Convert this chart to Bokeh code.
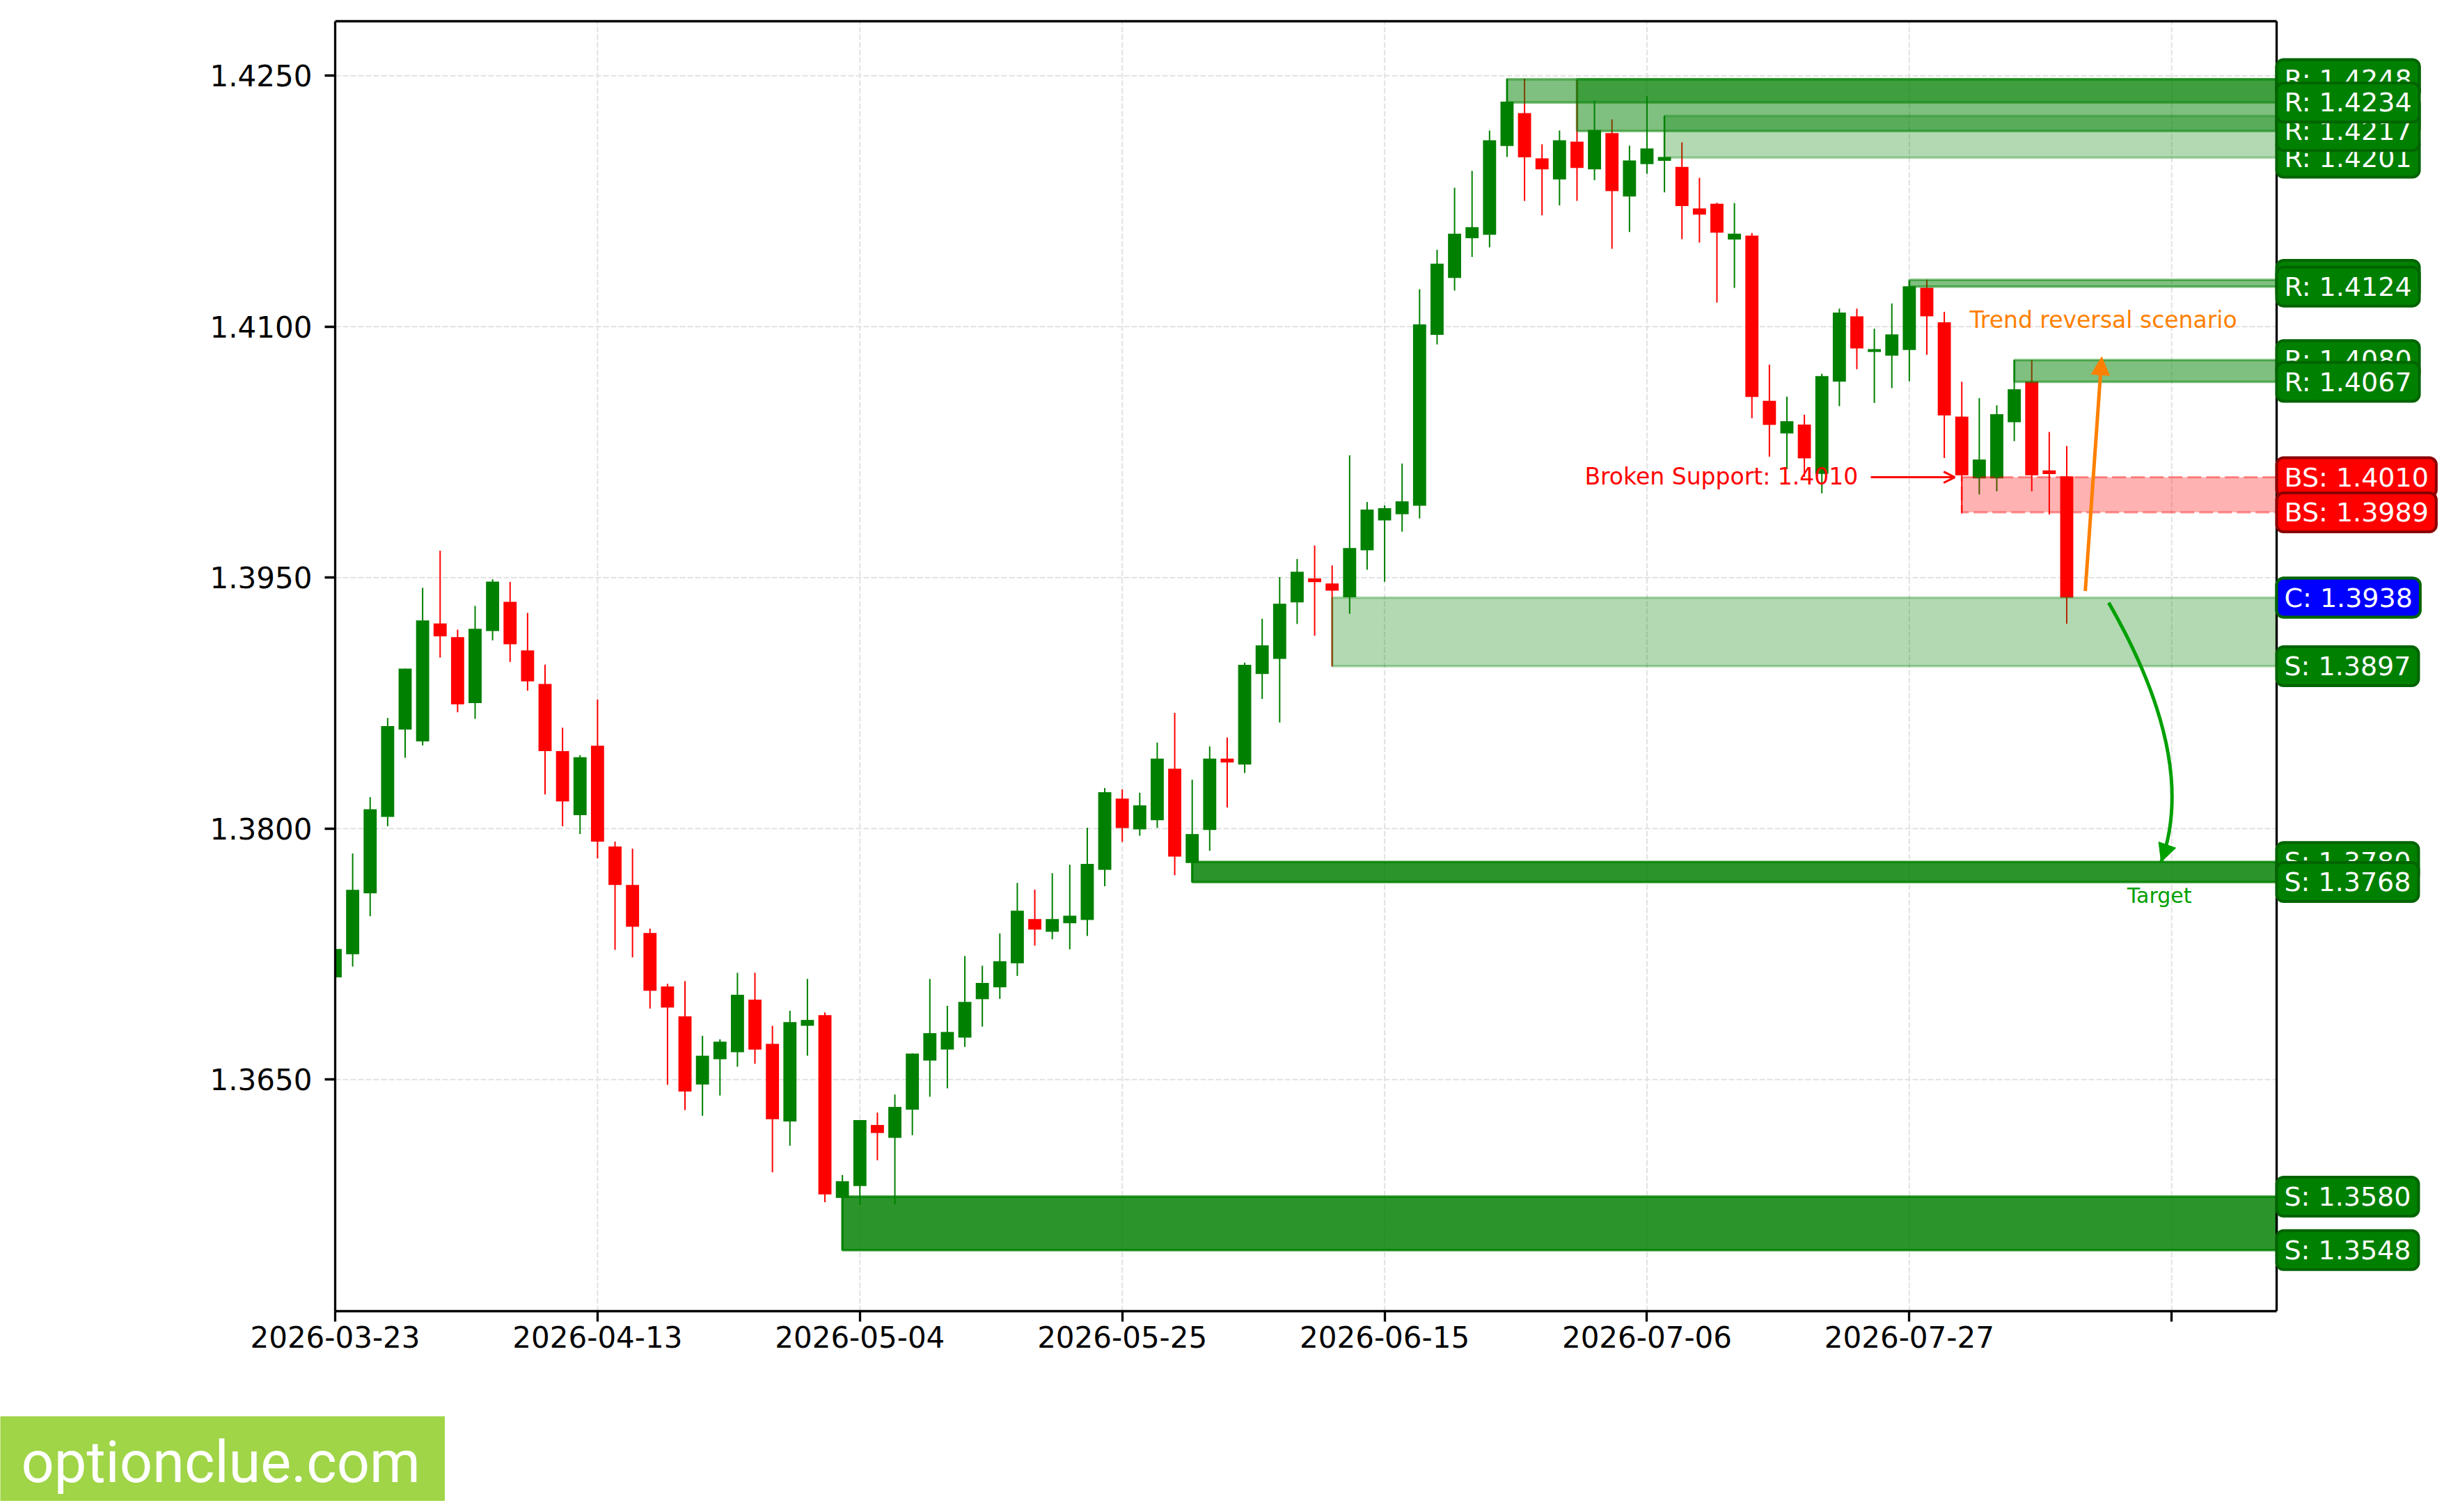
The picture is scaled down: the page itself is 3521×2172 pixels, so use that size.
from bokeh.plotting import figure
from bokeh.layouts import column
from bokeh.models import (ColumnDataSource, FixedTicker, NumeralTickFormatter, Label,
                          Arrow, NormalHead, OpenHead, Range1d)
from bokeh.embed import file_html
from bokeh.resources import INLINE
from bokeh.core.properties import value

# ---------------- data ----------------
opens = [1.3711, 1.37249, 1.37613, 1.3807, 1.38592, 1.38521, 1.39226, 1.39144, 1.3875, 1.39181,
         1.39355, 1.39065, 1.38864, 1.38463, 1.3808, 1.38495, 1.37893, 1.37663, 1.37376, 1.37056,
         1.36877, 1.3647, 1.36621, 1.36663, 1.36977, 1.36713, 1.36249, 1.36821, 1.36885, 1.35792,
         1.35863, 1.36228, 1.36151, 1.3632, 1.36613, 1.36679, 1.3675, 1.3698, 1.37051, 1.37195,
         1.37459, 1.37383, 1.37434, 1.37454, 1.37753, 1.38179, 1.37995, 1.3805, 1.38358, 1.37794,
         1.37992, 1.38418, 1.38383, 1.38924, 1.39014, 1.39352, 1.39495, 1.39465, 1.39382, 1.39663,
         1.39842, 1.39879, 1.3993, 1.40951, 1.41291, 1.41529, 1.4155, 1.4208, 1.42277, 1.42006,
         1.4188, 1.42106, 1.41941, 1.42157, 1.41778, 1.41972, 1.41992, 1.41955, 1.41707, 1.41735,
         1.41521, 1.41544, 1.40557, 1.40362, 1.40415, 1.4012, 1.40671, 1.41062, 1.40849, 1.40827,
         1.40861, 1.41233, 1.41026, 1.40462, 1.40093, 1.40093, 1.40429, 1.40671, 1.40141, 1.40105]
highs = [1.3731, 1.37851, 1.38188, 1.38661, 1.38956, 1.39439, 1.39661, 1.39189, 1.39331, 1.3949,
         1.39474, 1.39289, 1.3898, 1.38603, 1.38439, 1.38772, 1.37922, 1.3788, 1.37402, 1.37072,
         1.37088, 1.36761, 1.3674, 1.37138, 1.37138, 1.36821, 1.36911, 1.37101, 1.36901, 1.35929,
         1.36257, 1.36302, 1.3641, 1.36655, 1.37101, 1.3694, 1.37238, 1.3718, 1.37373, 1.37675,
         1.37635, 1.37733, 1.37784, 1.38005, 1.38242, 1.38234, 1.38214, 1.38514, 1.38692, 1.38292,
         1.38491, 1.38544, 1.38992, 1.39254, 1.39503, 1.39611, 1.39692, 1.39573, 1.40231, 1.39952,
         1.39932, 1.40182, 1.41224, 1.4146, 1.41831, 1.41931, 1.42173, 1.42483, 1.42483, 1.4209,
         1.42173, 1.42475, 1.42353, 1.42239, 1.42082, 1.42379, 1.42261, 1.42102, 1.4189, 1.41741,
         1.41739, 1.4156, 1.40773, 1.40582, 1.40474, 1.40719, 1.41108, 1.41108, 1.40988, 1.41139,
         1.41276, 1.41281, 1.41089, 1.40671, 1.40573, 1.4053, 1.40801, 1.40801, 1.40371, 1.40287]
lows = [1.3708, 1.37175, 1.37476, 1.38014, 1.38423, 1.38497, 1.39022, 1.38695, 1.38656, 1.39125,
        1.38996, 1.38824, 1.38204, 1.38014, 1.37967, 1.37822, 1.37275, 1.3723, 1.36924, 1.36468,
        1.36317, 1.36283, 1.36404, 1.36576, 1.36594, 1.35945, 1.36104, 1.36642, 1.35766, 1.3548,
        1.3575, 1.36017, 1.35753, 1.36167, 1.36397, 1.36447, 1.36695, 1.36816, 1.36982, 1.37119,
        1.373, 1.37338, 1.37278, 1.37358, 1.37655, 1.3792, 1.37957, 1.38005, 1.37721, 1.3768,
        1.37867, 1.38126, 1.38332, 1.38775, 1.38634, 1.39223, 1.39153, 1.38969, 1.39284, 1.39547,
        1.39475, 1.39775, 1.39854, 1.40894, 1.41216, 1.41417, 1.41474, 1.42015, 1.41752, 1.41666,
        1.41725, 1.41752, 1.41876, 1.41466, 1.41566, 1.41915, 1.41803, 1.41523, 1.41503, 1.41144,
        1.41232, 1.40453, 1.40223, 1.40148, 1.40103, 1.40004, 1.40525, 1.40746, 1.40544, 1.40633,
        1.40674, 1.40832, 1.40215, 1.39884, 1.39997, 1.40016, 1.40316, 1.40016, 1.39877, 1.39224]
closes = [1.3728, 1.37634, 1.38115, 1.38613, 1.38956, 1.39244, 1.39149, 1.38743, 1.39194, 1.39476,
          1.39102, 1.3888, 1.38463, 1.38162, 1.38426, 1.37922, 1.37663, 1.37413, 1.3703, 1.3693,
          1.36428, 1.36642, 1.36726, 1.37006, 1.36679, 1.36262, 1.36843, 1.36856, 1.35813, 1.35892,
          1.36257, 1.3618, 1.36336, 1.36655, 1.36777, 1.36784, 1.36964, 1.37077, 1.37207, 1.37509,
          1.37396, 1.37459, 1.37479, 1.37789, 1.38217, 1.38003, 1.38139, 1.38418, 1.37832, 1.37967,
          1.38418, 1.38395, 1.38979, 1.39095, 1.39344, 1.39535, 1.39473, 1.39422, 1.39677, 1.39907,
          1.39915, 1.39956, 1.41014, 1.41377, 1.41556, 1.41595, 1.42114, 1.42345, 1.42012, 1.41941,
          1.42114, 1.41949, 1.42176, 1.41811, 1.41994, 1.42065, 1.42015, 1.41721, 1.4167, 1.41562,
          1.41556, 1.4058, 1.40413, 1.40435, 1.40213, 1.40705, 1.41084, 1.4087, 1.40866, 1.40954,
          1.41242, 1.41062, 1.4047, 1.40112, 1.40206, 1.40477, 1.40626, 1.40112, 1.40119, 1.3938]

x_ticks = [0, 15, 30, 45, 60, 75, 90, 105]
x_tick_labels = ["2026-03-23", "2026-04-13", "2026-05-04", "2026-05-25",
                 "2026-06-15", "2026-07-06", "2026-07-27", ""]
y_ticks = [1.3650, 1.3800, 1.3950, 1.4100, 1.4250]

# support / resistance zones (drawing order)
zone_kind = ["S", "S", "S", "R", "R", "R", "R", "R", "BS"]
zone_start = [29, 49, 57, 76, 71, 67, 90, 96, 93]
zone_bottom = [1.3548, 1.3768, 1.3897, 1.4201, 1.4217, 1.4234, 1.4124, 1.4067, 1.3989]
zone_top = [1.3580, 1.3780, 1.3938, 1.4226, 1.4248, 1.4248, 1.4128, 1.4080, 1.4010]
zone_alpha = [0.83, 0.83, 0.3, 0.3, 0.5, 0.5, 0.5, 0.5, 0.3]

current_price = 1.3938
broken_support = 1.4010

# ---------------- geometry ----------------
X0, X1 = 0, 111            # visible axis extent (bars)
Y0, Y1 = 1.35115, 1.42826  # visible price extent
W = 3505
H_MAIN = 2034
H_WM = 122
FL, FT, FB, FR = 481, 30, 1883, 3270   # plot box edges (pixels)
px_x = (X1 - X0) / (FR - FL)
px_y = (Y1 - Y0) / (FB - FT)
X_END = X1 + (W - FR) * px_x            # frame extends under the price labels
PAD_TOP = 3
Y_END = Y1 + PAD_TOP * px_y
TXT_SHIFT = 11 * px_y                   # baseline correction for annotation texts

p = figure(width=W, height=H_MAIN, x_range=Range1d(X0, X_END), y_range=Range1d(Y0, Y_END),
           output_backend="svg", toolbar_location=None,
           min_border_left=FL, min_border_right=0, min_border_top=FT - PAD_TOP,
           min_border_bottom=H_MAIN - FB,
           background_fill_color="white", border_fill_color="white")
p.outline_line_color = None
p.grid.visible = False
p.frame_align = False

GREEN = "#008000"
RED = "#ff0000"

# dashed grid limited to the plot box
p.segment(x0=x_ticks, y0=[Y0] * len(x_ticks), x1=x_ticks, y1=[Y1] * len(x_ticks),
          line_color="#e2e2e2", line_width=2, line_dash="8 3")
p.segment(x0=[X0] * len(y_ticks), y0=y_ticks, x1=[X1] * len(y_ticks), y1=y_ticks,
          line_color="#e2e2e2", line_width=2, line_dash="8 3")

idx = list(range(len(opens)))
colors = [GREEN if c >= o else RED for o, c in zip(opens, closes)]
src = ColumnDataSource(dict(
    x=idx, h=highs, l=lows,
    top=[max(o, c) for o, c in zip(opens, closes)],
    bottom=[min(o, c) for o, c in zip(opens, closes)],
    color=colors))

p.segment(x0="x", y0="l", x1="x", y1="h", source=src, line_color="color", line_width=2)
p.vbar(x="x", width=0.75, top="top", bottom="bottom", source=src,
       fill_color="color", line_color=None)

# zones
for k, s, b, t, a in zip(zone_kind, zone_start, zone_bottom, zone_top, zone_alpha):
    if k == "BS":
        p.quad(left=[s], right=[X1], bottom=[b], top=[t], fill_color=RED, fill_alpha=a,
               line_color=RED, line_alpha=0.4, line_width=3, line_dash="20 7")
    else:
        p.quad(left=[s], right=[X1], bottom=[b], top=[t], fill_color=GREEN, fill_alpha=a,
               line_color=GREEN, line_alpha=a, line_width=3.5)

# top and right spines
p.segment(x0=[X0, X1], y0=[Y1, Y0], x1=[X1, X1], y1=[Y1, Y1], line_color="black", line_width=3.3)

# annotations
ORANGE = "#ff8000"
TGREEN = "#00a000"
p.add_layout(Arrow(end=NormalHead(size=26, fill_color=ORANGE, line_color=ORANGE, line_width=1),
                   x_start=100.06, y_start=1.3942, x_end=101.0, y_end=1.4082,
                   line_color=ORANGE, line_width=5))
p.quadratic(x0=[101.4], y0=[1.3935], x1=[104.4], y1=[1.3780], cx=[106.52], cy=[1.38416],
            line_color=TGREEN, line_width=5)
p.add_layout(Arrow(end=NormalHead(size=26, fill_color=TGREEN, line_color=TGREEN, line_width=1),
                   x_start=104.61, y_start=1.37862, x_end=104.4, y_end=1.3780,
                   line_color=TGREEN, line_width=5))
p.add_layout(Arrow(end=OpenHead(size=16, line_color=RED, line_width=3),
                   x_start=87.8, y_start=broken_support, x_end=92.6, y_end=broken_support,
                   line_color=RED, line_width=3))

p.add_layout(Label(x=87.07, y=1.4006 + TXT_SHIFT, text=f"Broken Support: {broken_support:.4f}",
                   text_align="right", text_baseline="alphabetic",
                   text_font="DejaVu Sans", text_font_size="33px", text_color=RED))
p.add_layout(Label(x=93.45, y=1.40993 + TXT_SHIFT, text="Trend reversal scenario",
                   text_align="left", text_baseline="alphabetic",
                   text_font="DejaVu Sans", text_font_size="33px", text_color=ORANGE))
p.add_layout(Label(x=104.3, y=1.37555 + TXT_SHIFT, text="Target",
                   text_align="center", text_baseline="alphabetic",
                   text_font="DejaVu Sans", text_font_size="30px", text_color=TGREEN))

# right-side price labels
def price_label(txt, yv, fill, border):
    p.add_layout(Label(x=X1, y=yv, x_offset=0, text=txt, text_align="left",
                       text_baseline="middle", text_font="DejaVu Sans", text_font_size="38px",
                       text_color="white", background_fill_color=fill,
                       border_line_color=border, border_line_width=4, border_radius=10,
                       padding=dict(left=11, right=11, top=6, bottom=6)))

for k, b, t in zip(zone_kind, zone_bottom, zone_top):
    if k == "BS":
        fill, border = RED, "#8b0000"
    else:
        fill, border = GREEN, "#006400"
    for v in (t, b):
        price_label(f"{k}: {v:.4f}", v, fill, border)
price_label(f"C: {current_price:.4f}", current_price, "#0000ff", "#006400")

# axes
p.xaxis.ticker = FixedTicker(ticks=x_ticks)
p.xaxis.major_label_overrides = {t: lab for t, lab in zip(x_ticks, x_tick_labels)}
p.xaxis.bounds = (X0, X1)
p.yaxis.ticker = FixedTicker(ticks=y_ticks)
p.yaxis.formatter = NumeralTickFormatter(format="0.0000")
p.yaxis.bounds = (Y0, Y1)
for ax in (p.xaxis, p.yaxis):
    ax.axis_line_width = 3.3
    ax.axis_line_color = "black"
    ax.major_tick_line_width = 3.3
    ax.major_tick_out = 15
    ax.major_tick_in = 0
    ax.minor_tick_out = 0
    ax.minor_tick_in = 0
    ax.major_label_text_font = "DejaVu Sans"
    ax.major_label_text_font_size = "42px"
    ax.major_label_text_color = "black"
p.xaxis.major_label_standoff = 6
p.yaxis.major_label_standoff = 18

# watermark strip (bottom-left)
WM_W = 639
wm = figure(width=WM_W, height=H_WM, x_range=Range1d(0, WM_W), y_range=Range1d(0, H_WM),
            output_backend="svg", toolbar_location=None, x_axis_type=None, y_axis_type=None,
            min_border=0, background_fill_color="#9fd547", border_fill_color="#9fd547")
wm.outline_line_color = None
wm.grid.visible = False
wm.frame_align = False
wm.text(x=[30], y=[56], text=["optionclue.com"], text_font=value("Roboto"),
        text_font_size="83px", text_color="white", text_baseline="alphabetic",
        text_align="left")

layout = column(p, wm, spacing=0)
open("out.html", "w").write(file_html(layout, INLINE))
